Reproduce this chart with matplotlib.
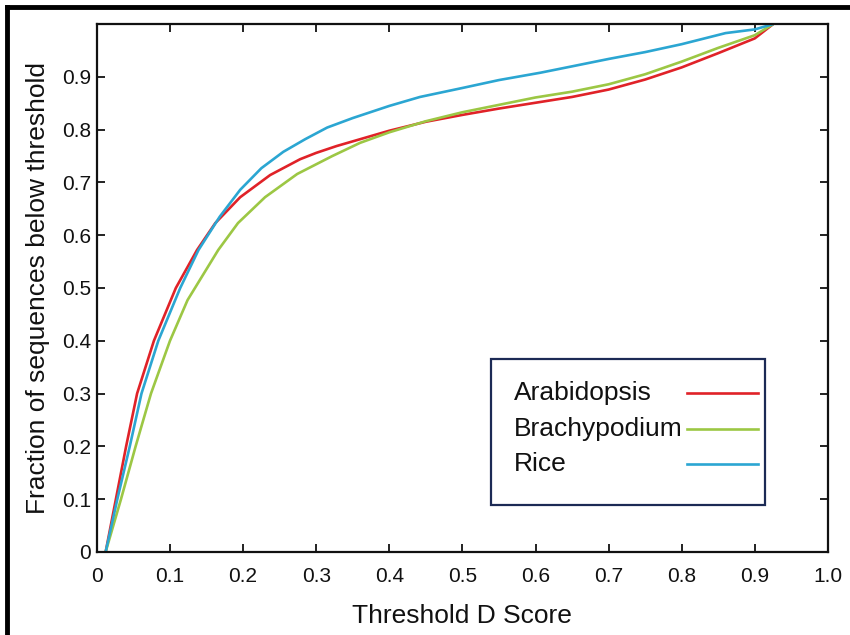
import matplotlib
matplotlib.use("Agg")
import matplotlib.pyplot as plt
from matplotlib.lines import Line2D
from matplotlib.patches import Rectangle

plt.rcParams['font.family'] = ['Liberation Sans', 'DejaVu Sans']

# ---- data ----
arab_x = [0.012, 0.026, 0.040, 0.055, 0.078, 0.108, 0.137, 0.162, 0.196, 0.237,
          0.278, 0.3, 0.328, 0.4, 0.45, 0.5, 0.55, 0.6, 0.65, 0.7, 0.75, 0.8, 0.85, 0.9, 0.925]
arab_y = [0.0, 0.1, 0.2, 0.3, 0.4, 0.5, 0.572, 0.623, 0.672, 0.714,
          0.744, 0.756, 0.769, 0.798, 0.815, 0.828, 0.84, 0.851, 0.862, 0.876, 0.895, 0.918, 0.945, 0.973, 1.0]

brachy_x = [0.012, 0.033, 0.053, 0.074, 0.100, 0.124, 0.166, 0.193, 0.230, 0.274, 0.322,
            0.36, 0.4, 0.45, 0.5, 0.55, 0.6, 0.65, 0.7, 0.75, 0.8, 0.85, 0.9, 0.925]
brachy_y = [0.0, 0.1, 0.2, 0.3, 0.4, 0.477, 0.572, 0.623, 0.672, 0.716, 0.750,
            0.775, 0.795, 0.816, 0.833, 0.847, 0.861, 0.872, 0.886, 0.905, 0.929, 0.955, 0.979, 1.0]

rice_x = [0.012, 0.028, 0.045, 0.061, 0.084, 0.114, 0.139, 0.168, 0.196, 0.225, 0.255,
          0.285, 0.315, 0.35, 0.4, 0.442, 0.5, 0.55, 0.607, 0.65, 0.7, 0.75, 0.8, 0.86, 0.9, 0.925]
rice_y = [0.0, 0.1, 0.2, 0.3, 0.4, 0.5, 0.572, 0.635, 0.686, 0.727, 0.758,
          0.782, 0.804, 0.822, 0.845, 0.862, 0.879, 0.894, 0.908, 0.92, 0.934, 0.947, 0.962, 0.983, 0.99, 1.0]

series_names = ["Arabidopsis", "Brachypodium", "Rice"]
x_ticks = [0, 0.1, 0.2, 0.3, 0.4, 0.5, 0.6, 0.7, 0.8, 0.9, 1.0]
x_tick_labels = ["0", "0.1", "0.2", "0.3", "0.4", "0.5", "0.6", "0.7", "0.8", "0.9", "1.0"]
y_ticks = [0, 0.1, 0.2, 0.3, 0.4, 0.5, 0.6, 0.7, 0.8, 0.9]
y_tick_labels = ["0", "0.1", "0.2", "0.3", "0.4", "0.5", "0.6", "0.7", "0.8", "0.9"]

colors = ['#e02228', '#9cc744', '#2ba6d2']

fig = plt.figure(figsize=(8.5, 6.35), dpi=100)
ax = fig.add_axes([0.114, 0.131, 0.860, 0.831])

for xs, ys, name, c in zip([arab_x, brachy_x, rice_x], [arab_y, brachy_y, rice_y],
                           series_names, colors):
    ax.plot(xs, ys, color=c, lw=1.9, label=name,
            solid_capstyle='round', solid_joinstyle='round')

ax.set_xlim(0, 1.0)
ax.set_ylim(0, 1.0)
ax.set_xticks(x_ticks)
ax.set_xticklabels(x_tick_labels)
ax.set_yticks(y_ticks)
ax.set_yticklabels(y_tick_labels)
ax.tick_params(direction='in', length=6, width=1.3, labelsize=15, colors='#111111',
               top=True, right=True)
ax.tick_params(axis='x', pad=11)
ax.tick_params(axis='y', pad=4)
for s in ax.spines.values():
    s.set_linewidth(1.6)
    s.set_color('#111111')

ax.set_xlabel("Threshold D Score", fontsize=19, labelpad=13, color='#111111')
ax.set_ylabel("Fraction of sequences below threshold", fontsize=19, labelpad=8.5,
              color='#111111')

# legend: labels on the left, line samples on the right, inside a navy box
ax.add_patch(Rectangle((0.539, 0.089), 0.375, 0.277, transform=ax.transAxes,
                       facecolor='white', edgecolor='#1c2a55', lw=1.6, zorder=5))
row_y = [0.301, 0.233, 0.167]
for name, c, yy in zip(series_names, colors, row_y):
    ax.text(0.570, yy, name, transform=ax.transAxes, fontsize=19, va='center',
            ha='left', color='#111111', zorder=6)
    ax.add_line(Line2D([0.807, 0.904], [yy, yy], transform=ax.transAxes, color=c,
                       lw=1.9, zorder=6))

# outer frame (top and left edges)
fig.add_artist(Line2D([7/850, 1.0], [1 - 7/635, 1 - 7/635], color='black', lw=3.5,
                      transform=fig.transFigure))
fig.add_artist(Line2D([7/850, 7/850], [0, 1 - 7/635], color='black', lw=3.5,
                      transform=fig.transFigure))

fig.savefig("out.png", dpi=100)
